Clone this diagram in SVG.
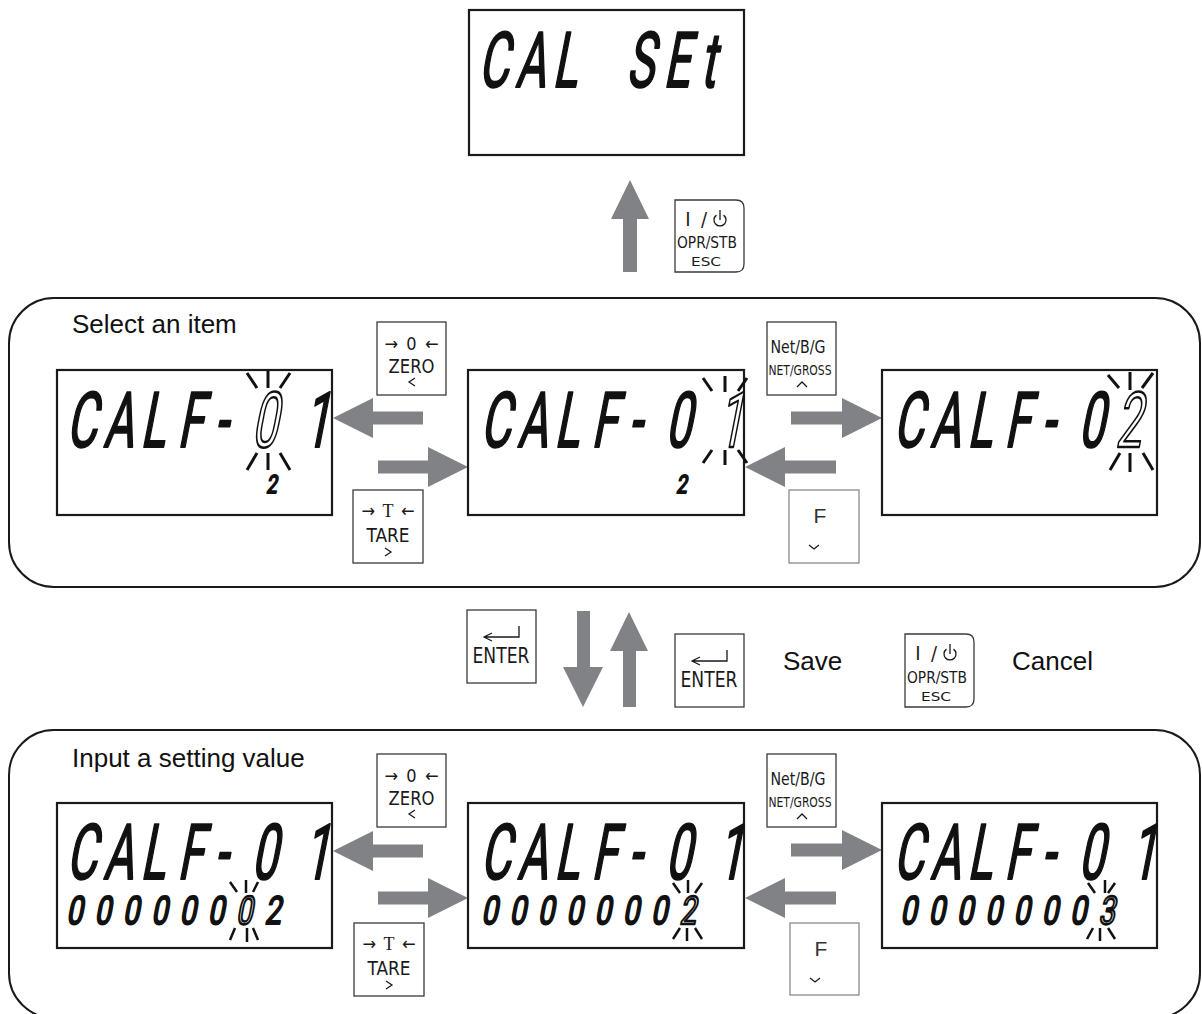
<svg xmlns="http://www.w3.org/2000/svg" width="1202" height="1014" viewBox="0 0 1202 1014">
<defs>
<style>
.panel{fill:none;stroke:#1a1a1a;stroke-width:2}
.disp{fill:#fff;stroke:#1a1a1a;stroke-width:2.2}
.key{fill:#fff;stroke:#3a3a3a;stroke-width:1.3}
.keyf{fill:#fff;stroke:#8a8a8a;stroke-width:1.3}
.arr{fill:#818286}
.lbl{font-family:"Liberation Sans",Arial,sans-serif;font-size:26px;fill:#111}
.seg{font-family:Roboto,"DejaVu Sans",sans-serif;fill:#111;stroke:#111;stroke-width:2;stroke-linejoin:round}
.hol{fill:#fff;stroke:#111;stroke-width:2.5}
.ray{fill:none;stroke:#111;stroke-width:3}
.rays{fill:none;stroke:#111;stroke-width:2.5}
.kt{font-family:"Liberation Sans Narrow","DejaVu Sans Condensed","Liberation Sans",sans-serif;fill:#1a1a1a;text-anchor:middle}
.icon{fill:none;stroke:#1a1a1a;stroke-width:1.3}
</style>
</defs>

<g id="panels">
<rect id="panel-select" class="panel" x="9" y="298" width="1191" height="289" rx="45"/>
<rect id="panel-input" class="panel" x="9" y="730" width="1191" height="288" rx="45"/>
<text class="lbl" x="72" y="333">Select an item</text>
<text class="lbl" x="72" y="767">Input a setting value</text>
</g>

<g id="connectors">
<polygon class="arr" points="630,180 649,219 637,219 637,272 623,272 623,219 611,219"/>
<polygon class="arr" points="583,707 603,667 590,667 590,611 577,611 577,667 563,667"/>
<polygon class="arr" points="629,612 648,651 636,651 636,707 623,707 623,651 610,651"/>
<polygon class="arr" points="333,418 373,398 373,411.5 423,411.5 423,424.5 373,424.5 373,438"/>
<polygon class="arr" points="468,467 428,447 428,460.5 378,460.5 378,473.5 428,473.5 428,487"/>
<polygon class="arr" points="882,418 842,398 842,411.5 791,411.5 791,424.5 842,424.5 842,438"/>
<polygon class="arr" points="745,467 785,447 785,460.5 836,460.5 836,473.5 785,473.5 785,487"/>
<polygon class="arr" points="333,851 373,831 373,844.5 423,844.5 423,857.5 373,857.5 373,871"/>
<polygon class="arr" points="468,898 428,878 428,891.5 378,891.5 378,904.5 428,904.5 428,918"/>
<polygon class="arr" points="882,850 842,830 842,843.5 791,843.5 791,856.5 842,856.5 842,870"/>
<polygon class="arr" points="745,898 785,878 785,891.5 836,891.5 836,904.5 785,904.5 785,918"/>
</g>

<g id="disp-calset">
<rect class="disp" x="469" y="10" width="275" height="145"/>
<text class="seg" font-size="77" transform="translate(478,87) skewX(-11) scale(0.6,1)" x="0 61.7 123.3 185 246.7 308.3 370">CAL SEt</text>
</g>

<g id="disp-select-left">
<rect class="disp" x="57" y="370" width="275" height="145"/>
<text class="seg" font-size="77" transform="translate(66,447) skewX(-11) scale(0.6,1)"><tspan x="0 61.7 123.3 185 246.7">CALF-</tspan><tspan class="hol" x="308.3">0</tspan><tspan x="395">1</tspan></text>
<path class="ray" d="M247,373 L257,388 M268,371 V388 M290,373 L280,388 M257,453 L247,470 M268,453 V470 M280,453 L290,470"/>
<text class="seg" font-size="25" transform="translate(266,493) skewX(-11) scale(0.75,1)">2</text>
</g>

<g id="disp-select-center">
<rect class="disp" x="468" y="370" width="276" height="145"/>
<text class="seg" font-size="77" transform="translate(480,447) skewX(-11) scale(0.6,1)"><tspan x="0 61.7 123.3 185 246.7 308.3">CALF-0</tspan><tspan class="hol" x="395">1</tspan></text>
<path class="ray" d="M703,378 L712,391 M725,376 V392 M747,378 L738,391 M712,450 L703,463 M725,450 V465 M738,450 L747,463"/>
<text class="seg" font-size="25" transform="translate(676,493) skewX(-11) scale(0.75,1)">2</text>
</g>

<g id="disp-select-right">
<rect class="disp" x="882" y="370" width="275" height="145"/>
<text class="seg" font-size="77" transform="translate(893,447) skewX(-11) scale(0.6,1)"><tspan x="0 61.7 123.3 185 246.7 308.3">CALF-0</tspan><tspan class="hol" x="370">2</tspan></text>
<path class="ray" d="M1108,375 L1119,388 M1130,372 V390 M1153,373 L1142,388 M1120,453 L1110,470 M1130,453 V472 M1143,453 L1153,470"/>
</g>

<g id="disp-input-left">
<rect class="disp" x="57" y="803" width="275" height="145"/>
<text class="seg" font-size="77" transform="translate(66,879) skewX(-11) scale(0.6,1)" x="0 61.7 123.3 185 246.7 308.3 395">CALF-01</text>
<text class="seg" font-size="39" transform="translate(66,924) skewX(-11) scale(0.75,1)"><tspan x="0 37.7 75.5 113.2 151 188.7">000000</tspan><tspan class="hol" x="226.4">0</tspan><tspan x="264.2">2</tspan></text>
<path class="rays" d="M230,882 L237,892 M246,880 V893 M258,882 L253,892 M235,928 L230,940 M247,928 V942 M253,928 L258,940"/>
</g>

<g id="disp-input-center">
<rect class="disp" x="468" y="803" width="276" height="145"/>
<text class="seg" font-size="77" transform="translate(480,879) skewX(-11) scale(0.6,1)" x="0 61.7 123.3 185 246.7 308.3 395">CALF-01</text>
<text class="seg" font-size="39" transform="translate(481,924) skewX(-11) scale(0.75,1)"><tspan x="0 37.7 75.5 113.2 151 188.7 226.4">0000000</tspan><tspan class="hol" x="264.2">2</tspan></text>
<path class="rays" d="M673,883 L680,893 M688,880 V893 M702,883 L695,893 M680,928 L673,939 M687,928 V941 M695,928 L702,939"/>
</g>

<g id="disp-input-right">
<rect class="disp" x="882" y="803" width="275" height="145"/>
<text class="seg" font-size="77" transform="translate(893,879) skewX(-11) scale(0.6,1)" x="0 61.7 123.3 185 246.7 308.3 395">CALF-01</text>
<text class="seg" font-size="39" transform="translate(900,924) skewX(-11) scale(0.75,1)"><tspan x="0 37.7 75.5 113.2 151 188.7 226.4">0000000</tspan><tspan class="hol" x="264.2">3</tspan></text>
<path class="rays" d="M1088,883 L1095,893 M1105,880 V893 M1115,883 L1108,893 M1093,928 L1087,939 M1100,928 V941 M1108,928 L1115,939"/>
</g>

<g id="key-esc-top" transform="translate(675,200)">
<path class="key" d="M0,0 H61 Q69,0 69,8 V64 Q69,72 61,72 H0 Z"/>
<text class="kt" x="13" y="26" font-size="20">I</text>
<text class="kt" x="29" y="26" font-size="20">/</text>
<path class="icon" d="M41.5,15.1 A6,6 0 1 0 48.5,15.1 M45,10 V20"/>
<text class="kt" x="32" y="48" font-size="16" textLength="60" lengthAdjust="spacingAndGlyphs">OPR/STB</text>
<text class="kt" x="31" y="66" font-size="13" textLength="30" lengthAdjust="spacingAndGlyphs">ESC</text>
</g>

<g id="key-zero-1" transform="translate(377,322)">
<rect class="key" width="69" height="73"/>
<text class="kt" x="34.5" y="28" font-size="18" textLength="54" lengthAdjust="spacing">→0←</text>
<text class="kt" x="34.5" y="51" font-size="20" textLength="46" lengthAdjust="spacingAndGlyphs">ZERO</text>
<polyline class="icon" points="38,56 32,60 38,64"/>
</g>

<g id="key-tare-1" transform="translate(353,490)">
<rect class="key" width="70" height="73"/>
<text class="kt" x="35" y="27" font-size="18" textLength="53" lengthAdjust="spacing">→<tspan font-family="Liberation Serif">T</tspan>←</text>
<text class="kt" x="35" y="52" font-size="20" textLength="43" lengthAdjust="spacingAndGlyphs">TARE</text>
<polyline class="icon" points="32,58 38,62 32,66"/>
</g>

<g id="key-net-1" transform="translate(767,322)">
<rect class="key" width="69" height="73"/>
<text class="kt" x="31" y="31" font-size="18" textLength="55" lengthAdjust="spacingAndGlyphs">Net/B/G</text>
<text class="kt" x="33" y="53" font-size="14" textLength="63" lengthAdjust="spacingAndGlyphs">NET/GROSS</text>
<polyline class="icon" points="30,65 35,60 40,65"/>
</g>

<g id="key-f-1" transform="translate(789,490)">
<rect class="keyf" width="70" height="73"/>
<text x="31" y="33" font-size="21" font-family="Liberation Sans, Arial, sans-serif" fill="#333" text-anchor="middle">F</text>
<polyline class="icon" points="20,55 25,59 30,55"/>
</g>

<g id="key-enter-1" transform="translate(467,610)">
<rect class="key" width="69" height="73"/>
<path class="icon" d="M17,27 H52 V16 M25,23 L17,27 L25,31"/>
<text class="kt" x="34" y="53" font-size="21" textLength="57" lengthAdjust="spacingAndGlyphs">ENTER</text>
</g>

<g id="key-enter-2" transform="translate(675,634)">
<rect class="key" width="69" height="73"/>
<path class="icon" d="M17,27 H52 V16 M25,23 L17,27 L25,31"/>
<text class="kt" x="34" y="53" font-size="21" textLength="57" lengthAdjust="spacingAndGlyphs">ENTER</text>
</g>

<g id="legend-save">
<text class="lbl" x="783" y="670">Save</text>
</g>

<g id="key-esc-2" transform="translate(905,634)">
<path class="key" d="M0,0 H61 Q69,0 69,8 V65 Q69,73 61,73 H0 Z"/>
<text class="kt" x="13" y="26" font-size="20">I</text>
<text class="kt" x="29" y="26" font-size="20">/</text>
<path class="icon" d="M41.5,15.1 A6,6 0 1 0 48.5,15.1 M45,10 V20"/>
<text class="kt" x="32" y="49" font-size="16" textLength="60" lengthAdjust="spacingAndGlyphs">OPR/STB</text>
<text class="kt" x="31" y="67" font-size="13" textLength="30" lengthAdjust="spacingAndGlyphs">ESC</text>
</g>

<g id="legend-cancel">
<text class="lbl" x="1012" y="670">Cancel</text>
</g>

<g id="key-zero-2" transform="translate(377,754)">
<rect class="key" width="69" height="73"/>
<text class="kt" x="34.5" y="28" font-size="18" textLength="54" lengthAdjust="spacing">→0←</text>
<text class="kt" x="34.5" y="51" font-size="20" textLength="46" lengthAdjust="spacingAndGlyphs">ZERO</text>
<polyline class="icon" points="38,56 32,60 38,64"/>
</g>

<g id="key-tare-2" transform="translate(354,923)">
<rect class="key" width="70" height="73"/>
<text class="kt" x="35" y="27" font-size="18" textLength="53" lengthAdjust="spacing">→<tspan font-family="Liberation Serif">T</tspan>←</text>
<text class="kt" x="35" y="52" font-size="20" textLength="43" lengthAdjust="spacingAndGlyphs">TARE</text>
<polyline class="icon" points="32,58 38,62 32,66"/>
</g>

<g id="key-net-2" transform="translate(767,754)">
<rect class="key" width="69" height="73"/>
<text class="kt" x="31" y="31" font-size="18" textLength="55" lengthAdjust="spacingAndGlyphs">Net/B/G</text>
<text class="kt" x="33" y="53" font-size="14" textLength="63" lengthAdjust="spacingAndGlyphs">NET/GROSS</text>
<polyline class="icon" points="30,65 35,60 40,65"/>
</g>

<g id="key-f-2" transform="translate(790,923)">
<rect class="keyf" width="69" height="72"/>
<text x="31" y="33" font-size="21" font-family="Liberation Sans, Arial, sans-serif" fill="#333" text-anchor="middle">F</text>
<polyline class="icon" points="20,55 25,59 30,55"/>
</g>
</svg>
